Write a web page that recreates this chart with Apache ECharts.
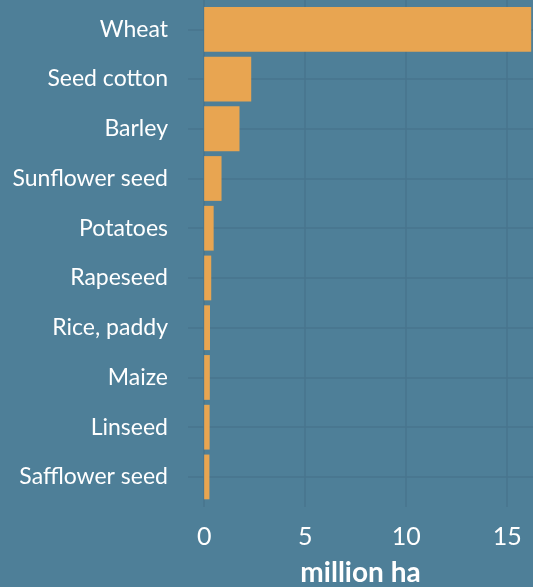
<!DOCTYPE html>
<html>
<head>
<meta charset="utf-8">
<script src="https://cdn.jsdelivr.net/npm/echarts@6/dist/echarts.min.js"></script>
<style>
  html, body { margin: 0; padding: 0; background: #4e7f98; }
  #main { width: 533px; height: 587px; }
</style>
</head>
<body>
<div id="main"></div>
<script>
// crops, million ha
var crops = ['Wheat', 'Seed cotton', 'Barley', 'Sunflower seed', 'Potatoes',
             'Rapeseed', 'Rice, paddy', 'Maize', 'Linseed', 'Safflower seed'];
var area = [16.19, 2.33, 1.75, 0.86, 0.47, 0.35, 0.29, 0.28, 0.27, 0.26];

var bg = '#4e7f98';
var gridColor = '#48758e';
var font = 'Lato';

var chart = echarts.init(document.getElementById('main'));

var option = {
    backgroundColor: bg,
    animation: false,
    textStyle: { fontFamily: font },
    grid: [
        // background grid: vertical lines + x labels
        { left: 188, right: 0, top: 0, bottom: 80, outerBoundsMode: 'none' },
        // bars
        { left: 188, right: 0, top: 4.4, bottom: 85.2, outerBoundsMode: 'none' }
    ],
    xAxis: [{
        type: 'value',
        gridIndex: 0,
        min: -0.8,
        max: 16.28,
        splitNumber: 3,
        name: 'million ha',
        nameLocation: 'middle',
        nameGap: 52,
        nameTextStyle: { color: '#fff', fontSize: 28, fontWeight: 'bold', fontFamily: font },
        axisLine: { show: false },
        axisTick: { show: false },
        axisLabel: {
            color: '#fff', fontSize: 25, margin: 17,
            showMinLabel: false, showMaxLabel: false
        },
        splitLine: {
            show: true, showMinLine: false, showMaxLine: false,
            lineStyle: { color: gridColor, width: 1.5 }
        }
    }, {
        type: 'value',
        gridIndex: 1,
        min: -0.8,
        max: 16.28,
        show: false
    }],
    yAxis: [{
        type: 'value',
        gridIndex: 0,
        min: 0,
        max: 1,
        show: false
    }, {
        type: 'category',
        gridIndex: 1,
        data: crops,
        inverse: true,
        axisLine: { show: false },
        axisTick: { show: false },
        splitLine: { show: false },
        axisLabel: { color: '#fff', fontSize: 23, margin: 20, padding: [6, 0, 0, 0] }
    }],
    series: [{
        type: 'bar',
        xAxisIndex: 1,
        yAxisIndex: 1,
        data: area,
        barCategoryGap: '10%',
        z: 3,
        itemStyle: { color: '#e8a551' },
        markLine: {
            silent: true,
            z: 1,
            symbol: 'none',
            label: { show: false },
            lineStyle: { color: gridColor, width: 1.5, type: 'solid' },
            data: crops.map(function(c) { return { yAxis: c }; })
        }
    }]
};

chart.setOption(option);
</script>
</body>
</html>
